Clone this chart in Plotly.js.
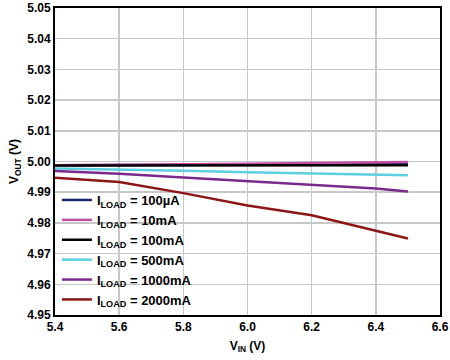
<!DOCTYPE html>
<html><head><meta charset="utf-8">
<script src="https://cdn.plot.ly/plotly-3.0.1.min.js"></script>
<style>body{margin:0;background:#fff}#chart{width:450px;height:360px}</style>
</head><body><div id="chart"></div>
<script>
const vin = [5.4, 5.6, 5.8, 6.0, 6.2, 6.4, 6.5];
const names = ["I<sub>LOAD</sub> = 100µA","I<sub>LOAD</sub> = 10mA","I<sub>LOAD</sub> = 100mA","I<sub>LOAD</sub> = 500mA","I<sub>LOAD</sub> = 1000mA","I<sub>LOAD</sub> = 2000mA"];
const v100uA  = [4.9988, 4.9988, 4.9989, 4.9989, 4.9990, 4.9991, 4.9991];
const v10mA   = [4.9988, 4.9989, 4.9991, 4.9993, 4.9995, 4.9997, 4.9998];
const v100mA  = [4.9987, 4.9987, 4.9988, 4.9988, 4.9988, 4.9988, 4.9988];
const v500mA  = [4.9977, 4.9974, 4.9970, 4.9965, 4.9961, 4.9956, 4.9955];
const v1000mA = [4.9969, 4.9960, 4.9948, 4.9936, 4.9926, 4.9912, 4.9902];
const v2000mA = [4.9947, 4.9933, 4.9897, 4.9857, 4.9825, 4.9776, 4.9749];
const series = [v100uA, v10mA, v100mA, v500mA, v1000mA, v2000mA];
const colors = ["#1c2570", "#c04fa3", "#000000", "#5ccfe0", "#7a2a8c", "#8c1515"];
const xTicks = [5.4, 5.6, 5.8, 6.0, 6.2, 6.4, 6.6];
const yTicks = [4.95, 4.96, 4.97, 4.98, 4.99, 5.00, 5.01, 5.02, 5.03, 5.04, 5.05];

const traces = series.map((s, i) => ({
  x: vin, y: s, name: names[i], mode: "lines", type: "scatter",
  line: {color: colors[i], width: 2.5}
}));
const tickFont = {family: "Liberation Sans, Arial, sans-serif", size: 12, color: "#000", weight: "bold"};
const layout = {
  width: 450, height: 360,
  margin: {l: 55, r: 10, t: 8, b: 45},
  paper_bgcolor: "#fff", plot_bgcolor: "#fff",
  showlegend: true,
  legend: {x: 0.005, y: 0.0, xanchor: "left", yanchor: "bottom", bgcolor: "rgba(255,255,255,0)",
    font: {family: "Liberation Sans, Arial, sans-serif", size: 13, color: "#000", weight: "bold"},
    tracegroupgap: 0, itemwidth: 30},
  shapes: [{type: "rect", xref: "paper", yref: "paper", x0: 0, x1: 0.382, y0: 0, y1: 0.375,
    fillcolor: "#fff", line: {width: 0}, layer: "between"}],
  xaxis: {range: [5.4, 6.6], tickvals: xTicks, ticktext: xTicks.map(v => v.toFixed(1)),
    showgrid: true, gridcolor: "#c8c8c8", gridwidth: 1.5, zeroline: false,
    showline: true, linecolor: "#000", linewidth: 2, mirror: true, ticks: "",
    tickfont: tickFont,
    title: {text: "V<sub>IN</sub> (V)", font: tickFont, standoff: 8}},
  yaxis: {range: [4.95, 5.05], tickvals: yTicks, ticktext: yTicks.map(v => v.toFixed(2)),
    showgrid: true, gridcolor: "#c8c8c8", gridwidth: 1.5, zeroline: false,
    showline: true, linecolor: "#000", linewidth: 2, mirror: true, ticks: "",
    tickfont: tickFont,
    title: {text: "V<sub>OUT</sub> (V)", font: tickFont, standoff: 6}}
};
Plotly.newPlot("chart", traces, layout, {displayModeBar: false, staticPlot: true});
</script></body></html>
